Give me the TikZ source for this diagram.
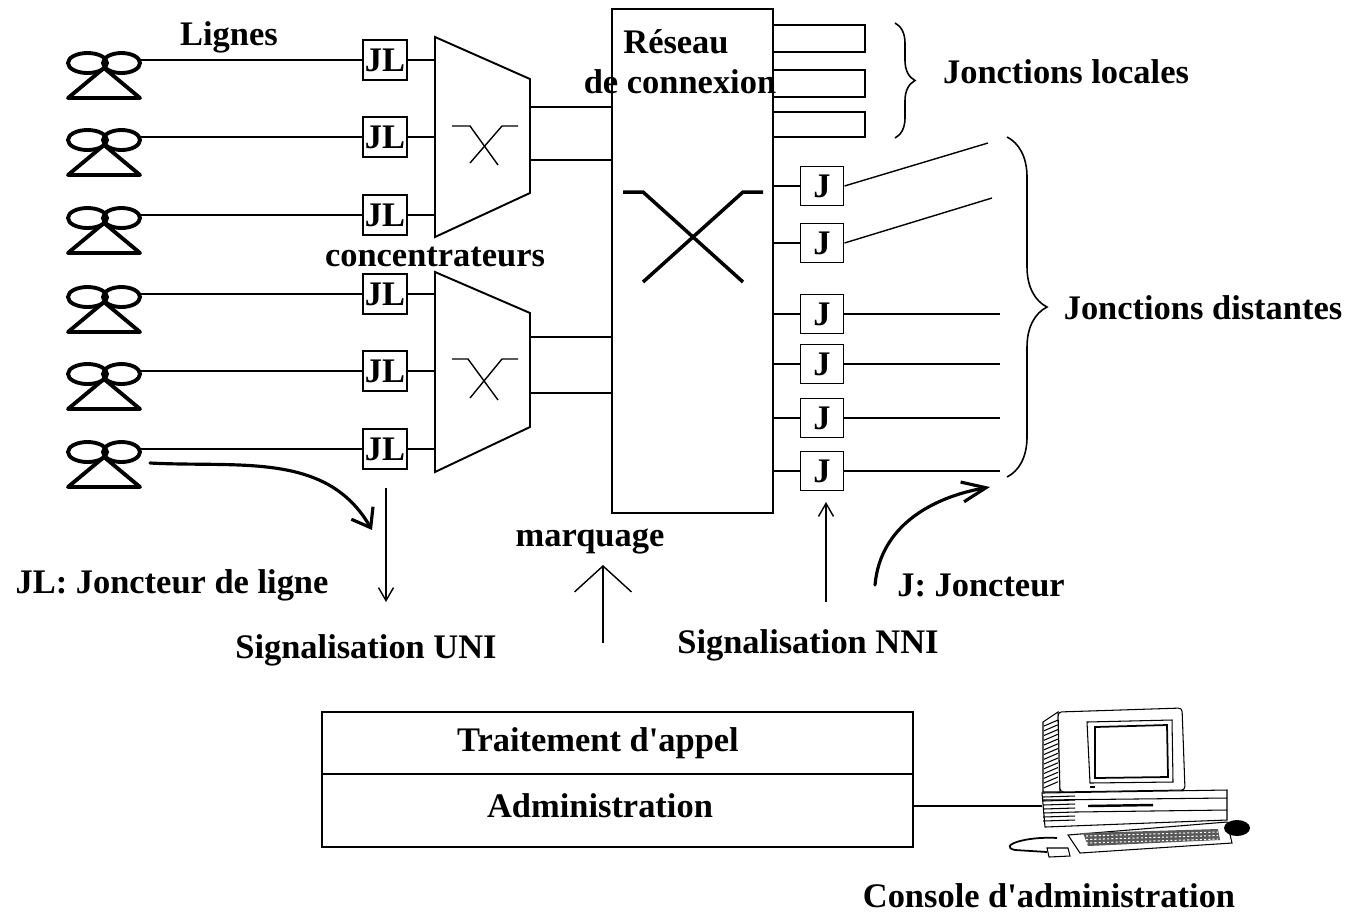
\documentclass[tikz,border=0pt]{standalone}
\usepackage{fontspec}
\setmainfont{Liberation Serif}
\usetikzlibrary{positioning,arrows.meta,decorations.pathreplacing}

\begin{document}
\begin{tikzpicture}[
  font=\bfseries\fontsize{19.6}{23}\selectfont,
  lbl/.style={inner sep=0pt},
  jl/.style={draw, line width=1.1pt, fill=white, minimum width=8.8mm,
             minimum height=8mm, inner sep=0pt},
  jbox/.style={jl, minimum width=8.6mm, minimum height=7.8mm},
  wire/.style={line width=0.8pt},
  frame/.style={line width=1.1pt},
  sig/.style={-{Straight Barb[length=2.6mm,width=3mm]}, line width=0.8pt},
  curly/.style={decorate, decoration={brace, amplitude=#1}, line width=0.9pt},
  hand/.style={line width=1.8pt, line cap=round},
]
\useasboundingbox (0,0) rectangle (27,-18.32);

% postes d'abonnes et joncteurs de ligne
\foreach \y [count=\i] in {-1.20,-2.74,-4.30,-5.88,-7.42,-8.98} {
  \draw[hand, line width=2.2pt] (1.75,\y-0.06) ellipse (0.39 and 0.2)
              (2.43,\y-0.06) ellipse (0.37 and 0.2);
  \draw[hand, line width=2.2pt, line join=round] (2.08,\y-0.16) -- (1.36,\y-0.76)
    -- (2.80,\y-0.76) -- cycle;
  \coordinate (tel\i) at (2.80,\y);
  \node[jl] (JL\i) at (7.70,\y) {JL};
  \draw[wire] (tel\i) -- (JL\i);
}

% concentrateurs
\draw[frame] (8.70,-0.74) coordinate (c1w) -- (10.60,-1.58) -- (10.60,-3.86)
  -- (8.70,-4.74) -- cycle;
\draw[frame] (8.70,-5.44) coordinate (c2w) -- (10.60,-6.26) -- (10.60,-8.54)
  -- (8.70,-9.44) -- cycle;
\foreach \i in {1,2,3} \draw[wire] (JL\i.east) -- (JL\i.east -| c1w);
\foreach \i in {4,5,6} \draw[wire] (JL\i.east) -- (JL\i.east -| c2w);
\draw[wire] (9.04,-2.52) -- (9.40,-2.52) -- (9.96,-3.30);
\draw[wire] (10.36,-2.52) -- (10.04,-2.52) -- (9.40,-3.26);
\draw[wire] (9.04,-7.18) -- (9.36,-7.18) -- (9.96,-8.00);
\draw[wire] (10.36,-7.18) -- (10.04,-7.18) -- (9.40,-7.96);

% reseau de connexion
\node[draw, frame, minimum width=3.22cm, minimum height=10.08cm, inner sep=0pt]
  (res) at (13.85,-5.22) {};
\node[lbl] (resname) at (13.52,-0.84) {Réseau};
\node[lbl] (resname2) at (13.60,-1.64) {de connexion};
\draw[line width=2pt] (12.46,-3.84) -- (12.86,-3.84) -- (14.86,-5.64);
\draw[line width=2pt] (15.26,-3.84) -- (14.86,-3.84) -- (12.86,-5.64);

\coordinate (c1a) at (10.60,-2.14);
\coordinate (c1b) at (10.60,-3.20);
\coordinate (c2a) at (10.60,-6.74);
\coordinate (c2b) at (10.60,-7.86);
\foreach \c in {c1a,c1b,c2a,c2b} \draw[wire] (\c) -- (\c -| res.west);

% jonctions locales
\foreach \a/\b in {-0.50/-1.04, -1.40/-1.94, -2.24/-2.74}
  \draw[wire] (res.east |- 0,\a) -- (17.30,\a) -- (17.30,\b) -- (res.east |- 0,\b);
\draw[curly=4mm] (17.90,-0.46) -- (17.90,-2.76);
\node[lbl] (loc) at (21.32,-1.44) {Jonctions locales};

% joncteurs et jonctions distantes
\foreach \y/\n in {-3.72/1, -4.86/2, -6.28/3, -7.28/4, -8.36/5, -9.42/6} {
  \node[jbox] (J\n) at (16.44,\y) {J};
  \draw[wire] (J\n.west -| res.east) -- (J\n.west);
}
\coordinate (d1) at (19.76,-2.86);
\coordinate (d2) at (19.84,-3.96);
\coordinate (d3) at (20.00,0);
\draw[wire] (J1.east) -- (d1);
\draw[wire] (J2.east) -- (d2);
\foreach \n in {3,...,6} \draw[wire] (J\n.east) -- (J\n.east -| d3);
\draw[curly=8mm] (20.14,-2.74) -- (20.14,-9.54);
\node[lbl] (dist) at (24.06,-6.16) {Jonctions distantes};

% libelles
\node[lbl] (lig) at (4.58,-0.74) {Lignes};
\node[lbl] (conc) at (8.70,-5.14) {concentrateurs};
\node[lbl] (mq) at (11.80,-10.82) {marquage};
\node[lbl] (jldef) at (3.44,-11.70) {JL: Joncteur de ligne};
\node[lbl] (jdef) at (19.62,-11.70) {J: Joncteur};
\node[lbl] (uni) at (7.32,-13.00) {Signalisation UNI};
\node[lbl] (nni) at (16.16,-12.90) {Signalisation NNI};

% signalisation
\coordinate (unitop) at (7.72,-9.76);
\coordinate (unibot) at (7.72,-12.04);
\draw[sig] (unitop) -- (unibot);
\coordinate (nnibot) at (16.52,-12.04);
\coordinate (nnitop) at (16.52,-10.04);
\draw[sig] (nnibot) -- (nnitop);
\coordinate (mkbot) at (12.06,-12.86);
\coordinate (mktop) at (12.06,-11.30);
\draw[line width=0.8pt, -{Straight Barb[length=5.2mm,width=11.4mm]}] (mkbot) -- (mktop);

\coordinate (t6) at (3.00,-9.26);
\coordinate (t6end) at (7.44,-10.60);
\draw[hand, -{Straight Barb[length=3.4mm,width=5mm]}] (t6) to[out=-3,in=120] (t6end);
\coordinate (jstart) at (17.50,-11.70);
\coordinate (jend) at (19.80,-9.74);
\draw[hand, -{Straight Barb[length=4.8mm,width=4mm]}] (jstart) to[out=85,in=190] (jend);

% traitement d'appel / administration
\node[draw, frame, minimum width=11.82cm, minimum height=2.70cm, inner sep=0pt]
  (sys) at (12.35,-15.59) {};
\coordinate (split) at (0,-15.48);
\draw[wire] (sys.west |- split) -- (sys.east |- split);
\node[lbl] (traittxt) at (11.96,-14.86) {Traitement d\textquotesingle appel};
\node[lbl] (admintxt) at (12.00,-16.12) {Administration};

% console
\coordinate (console) at (20.84,-16.12);
\draw[wire] (sys.east |- console) -- (console);
\begin{scope}[line width=0.6pt]
  % cote aere de l'ecran
  \draw[fill=white] (20.86,-14.44) -- (21.16,-14.24) -- (21.20,-15.84) -- (20.86,-15.84) -- cycle;
  \foreach \v in {0,...,13}
    \draw (20.88,-14.52-\v*0.095) -- (21.16,-14.40-\v*0.095);
  % ecran
  \draw[fill=white, rounded corners=2pt] (21.16,-14.24) -- (23.64,-14.16) -- (23.70,-15.80)
    -- (21.20,-15.84) -- cycle;
  \draw (21.74,-14.44) -- (23.44,-14.40) -- (23.46,-15.64) -- (21.80,-15.66) -- cycle;
  \draw[line width=1pt] (21.90,-14.54) -- (23.34,-14.50) -- (23.36,-15.54) -- (21.90,-15.56) -- cycle;
  \fill (21.80,-15.76) rectangle (21.90,-15.72);
  % unite centrale
  \draw[fill=white] (20.84,-15.86) -- (24.54,-15.80) -- (24.54,-16.40) -- (20.90,-16.54) -- cycle;
  \draw (20.84,-16.00) -- (24.54,-15.96);
  \draw (21.50,-16.24) -- (24.54,-16.20);
  \draw[line width=1.4pt] (21.76,-16.12) -- (23.06,-16.10);
  \foreach \v in {0,...,6}
    \draw (20.86,-15.94-\v*0.08) -- (21.50,-15.92-\v*0.08);
  % clavier
  \draw[fill=white] (21.36,-16.70) -- (24.54,-16.44) -- (24.64,-16.86) -- (21.60,-17.06) -- cycle;
  \fill[black!65] (21.66,-16.66) -- (24.36,-16.58) -- (24.40,-16.80) -- (21.76,-16.92) -- cycle;
  \foreach \v in {0,1,2}
    \draw[white, dash pattern=on 1.2pt off 1.2pt] (21.72,-16.72-\v*0.07) -- (24.36,-16.64-\v*0.07);
  \fill (24.74,-16.56) ellipse (0.26 and 0.16);
  % souris et cordon
  \draw[line width=1pt] (21.14,-16.76) .. controls (20.5,-16.72) and (19.95,-16.92) .. (20.30,-17.00)
    -- (20.94,-17.04);
  \draw[fill=white] (20.94,-16.96) -- (21.36,-16.96) -- (21.40,-17.12) -- (20.98,-17.14) -- cycle;
\end{scope}
\node[lbl] (constxt) at (20.98,-17.92) {Console d\textquotesingle administration};

\end{tikzpicture}
\end{document}
